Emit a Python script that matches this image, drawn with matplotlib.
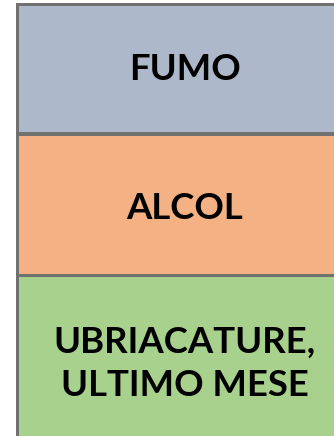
"""Three stacked labelled boxes (fumo / alcol / ubriacature)."""

import numpy as np
import matplotlib

matplotlib.use("Agg")
import matplotlib.pyplot as plt

W_PX, H_PX = 334, 436
DPI = 100

labels = ["FUMO", "ALCOL", "UBRIACATURE,\nULTIMO MESE"]
colors = ["#ADB9CA", "#F4B183", "#A9D18E"]

# box geometry in pixel units (top of first box, height of each box)
BOX_TOP = 4.5
box_heights = [129.0, 141.5, 174.0]
BOX_LEFT = 16.5
BOX_RIGHT = 352.0
EDGE_COLOR = "#717171"
EDGE_PX = 3.0

plt.rcParams["font.family"] = ["Lato", "DejaVu Sans"]

fig = plt.figure(figsize=(W_PX / DPI, H_PX / DPI), dpi=DPI)
ax = fig.add_axes([0, 0, 1, 1])
ax.set_xlim(0, W_PX)
ax.set_ylim(H_PX, 0)
ax.axis("off")

bottoms = BOX_TOP + np.concatenate([[0.0], np.cumsum(box_heights)[:-1]])
centers_x = (BOX_LEFT + BOX_RIGHT) / 2
ax.bar(
    [centers_x] * len(labels),
    box_heights,
    bottom=bottoms,
    width=BOX_RIGHT - BOX_LEFT,
    color=colors,
    edgecolor=EDGE_COLOR,
    linewidth=EDGE_PX * 72 / DPI,
    clip_on=False,
)

text_y = [69, 208, 364]
for label, y in zip(labels, text_y):
    ax.text(
        185,
        y,
        label,
        ha="center",
        va="center",
        fontsize=36.5 * 72 / DPI,
        fontweight="bold",
        color="#000000",
        linespacing=1.38,
    )

fig.savefig("out.png", dpi=DPI, facecolor="white")
